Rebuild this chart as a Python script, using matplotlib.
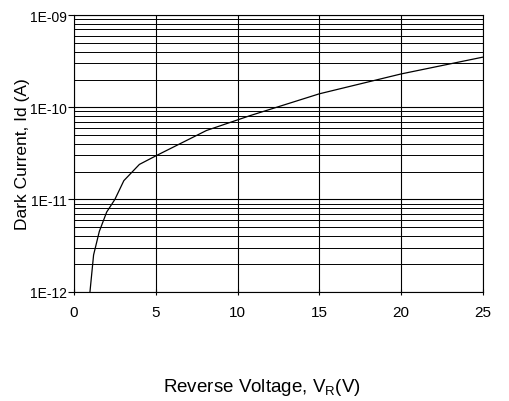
import matplotlib
matplotlib.use('Agg')
import matplotlib.pyplot as plt
import numpy as np
from matplotlib.ticker import LogLocator, FixedLocator, NullFormatter

plt.rcParams['font.family'] = ['Liberation Sans', 'DejaVu Sans']

# values
voltage = [0.98, 1.2, 1.55, 2.0, 2.5, 3.05, 4.0, 5.05, 8.1, 10.75, 15.0, 20.0, 25.0]
dark_current = [1.0e-12, 2.5e-12, 4.5e-12, 7.3e-12, 1.0e-11, 1.6e-11, 2.4e-11,
                3.0e-11, 5.6e-11, 8.1e-11, 1.4e-10, 2.3e-10, 3.5e-10]
x_ticks = [0, 5, 10, 15, 20, 25]
y_ticks = [1e-12, 1e-11, 1e-10, 1e-9]
y_labels = ['1E-12', '1E-11', '1E-10', '1E-09']

fig, ax = plt.subplots(figsize=(5.1, 4.02), dpi=100)
fig.subplots_adjust(left=0.145, right=0.947, top=0.96, bottom=0.272)

ax.plot(voltage, dark_current, color='black', lw=0.9)
ax.set_yscale('log')
ax.set_xlim(0, 25)
ax.set_ylim(1e-12, 1e-9)

ax.set_xticks(x_ticks)
ax.set_xticklabels([str(t) for t in x_ticks], fontsize=11)
ax.yaxis.set_major_locator(FixedLocator(y_ticks))
ax.set_yticklabels(y_labels, fontsize=10)
ax.yaxis.set_minor_locator(LogLocator(base=10, subs=np.arange(2, 10)))
ax.yaxis.set_minor_formatter(NullFormatter())
ax.tick_params(axis='y', which='minor', length=0)
ax.tick_params(axis='y', which='major', direction='out', length=4, width=0.8, pad=1)
ax.tick_params(axis='x', which='major', direction='inout', length=5, width=0.8, pad=7)

ax.grid(True, which='major', axis='both', color='black', lw=0.8)
ax.grid(True, which='minor', axis='y', color='black', lw=0.7)

for s in ax.spines.values():
    s.set_linewidth(0.8)
    s.set_color('black')

ax.set_xlabel('Reverse Voltage, V$_\\mathregular{R}$(V)', fontsize=13.5)
ax.set_ylabel('Dark Current, Id (A)', fontsize=12.5)
ax.xaxis.set_label_coords(0.46, -0.305)
ax.yaxis.set_label_coords(-0.108, 0.5)

plt.savefig('out.png', dpi=100)
